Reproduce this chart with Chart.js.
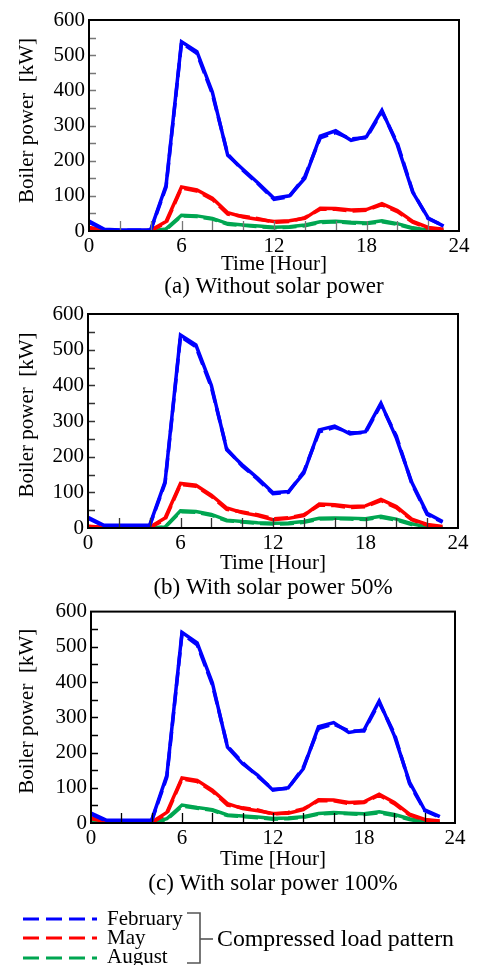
<!DOCTYPE html>
<html><head><meta charset="utf-8">
<script src="https://cdn.jsdelivr.net/npm/chart.js@4"></script>
<style>
html,body{margin:0;padding:0;background:#fff;width:477px;height:965px;overflow:hidden}
body{position:relative}
canvas{position:absolute;left:0}
#legend{position:absolute;left:0;top:895px}
</style></head><body>
<canvas id="c0" width="477" height="305" style="top:0px"></canvas>
<canvas id="c1" width="477" height="310" style="top:295px"></canvas>
<canvas id="c2" width="477" height="305" style="top:595px"></canvas>
<svg id="legend" width="477" height="70" xmlns="http://www.w3.org/2000/svg"></svg>
<script>
// ---------- data ----------
const hours = [0,1,2,3,4,5,6,7,8,9,10,11,12,13,14,15,16,17,18,19,20,21,22,23];
const xTickLabels = ['0','6','12','18','24'];
const yTickLabels = ['0','100','200','300','400','500','600'];
const seriesNames = ['February','May','August'];
const captions = ['(a) Without solar power','(b) With solar power 50%','(c) With solar power 100%'];
const xTitle = 'Time [Hour]';
const yTitle = 'Boiler power  [kW]';
const legendTitle = 'Compressed load pattern';

// (a) without solar power
const febA  = [28,5,3,3,3,130,538,510,395,215,175,135,93,100,150,270,285,258,268,343,245,110,37,14];
const febAc = [25,4,2,2,2,125,535,505,390,218,172,133,90,98,155,265,280,262,265,340,250,112,35,15];
const mayA  = [10,3,0,0,2,27,125,117,93,52,40,33,27,29,36,65,64,60,61,78,58,27,10,5];
const mayAc = [8,2,0,0,1,23,122,114,90,48,42,35,25,27,38,62,62,57,59,75,55,25,8,4];
const augA  = [3,1,0,0,0,6,45,43,36,21,17,14,11,12,17,26,28,25,23,29,21,9,2,0];
const augAc = [2,1,0,0,0,4,43,41,34,19,16,12,9,11,15,24,26,23,21,26,19,7,1,0];
// (b) with solar power 50%
const febB  = [30,8,8,8,8,130,541,513,400,219,177,140,99,102,154,275,286,264,270,350,252,128,41,18];
const febBc = [27,6,6,6,6,126,537,508,395,222,174,137,96,100,158,270,282,268,267,346,258,125,38,16];
const mayB  = [5,2,2,2,2,28,125,120,92,56,43,35,23,27,35,67,65,60,62,80,60,25,10,4];
const mayBc = [4,1,1,1,1,24,122,117,89,52,45,37,26,29,37,64,63,57,60,77,57,23,8,3];
const augB  = [3,0,0,0,0,3,48,46,38,22,18,15,13,14,18,27,28,27,26,33,25,12,3,0];
const augBc = [2,0,0,0,0,2,46,44,36,20,17,13,11,12,16,25,26,25,24,30,22,10,2,0];
// (c) with solar power 100%
const febC  = [28,8,8,8,8,135,541,511,398,215,168,135,93,100,154,273,285,257,264,346,248,116,37,18];
const febCc = [25,6,6,6,6,130,537,506,393,218,171,132,96,98,158,268,281,261,261,342,254,112,35,16];
const mayC  = [15,5,2,2,2,30,128,121,93,55,41,35,27,28,38,66,65,58,60,82,58,25,10,6];
const mayCc = [12,4,1,1,1,26,125,118,90,51,43,37,25,30,40,63,63,55,58,79,55,23,8,5];
const augC  = [10,3,0,0,0,12,51,44,38,23,20,17,13,14,18,27,30,28,26,32,24,12,3,1];
const augCc = [8,2,0,0,0,10,48,42,36,21,18,15,11,12,16,25,28,26,24,29,21,10,2,0];

const panelData = [
  [[febA,febAc],[mayA,mayAc],[augA,augAc]],
  [[febB,febBc],[mayB,mayBc],[augB,augBc]],
  [[febC,febCc],[mayC,mayCc],[augC,augCc]]
];

// ---------- layout / style ----------
const colors = ['#0000ff','#ff0000','#00a651'];
const FONT = '"Liberation Serif","Times New Roman",serif';
const panels = [
  {top:0,   h:305, l:89, t:20,  r:459, b:231, xtB:38.5, capB:62, ytOff:-5, tickCol:'#777'},
  {top:295, h:310, l:88, t:314, r:458, b:528, xtB:40.5, capB:66, ytOff:-6, tickCol:'#333'},
  {top:595, h:305, l:91, t:610, r:455, b:823, xtB:41.5, capB:67, ytOff:-6, tickCol:'#000'}
];

Chart.defaults.font.family = FONT;
Chart.defaults.color = '#000';

function makePlugin(p, idx) {
  return {
    id: 'frame' + idx,
    afterDatasetsDraw(chart) {
      const ctx = chart.ctx, a = chart.chartArea;
      const xs = chart.scales.x, ys = chart.scales.y;
      ctx.save();
      ctx.strokeStyle = p.tickCol;
      ctx.lineWidth = 1.3;
      ctx.beginPath();
      xs.ticks.forEach(t => {
        if (t.value <= 0 || t.value >= 24) return;
        const x = Math.round(xs.getPixelForValue(t.value)) + 0.5;
        ctx.moveTo(x, a.bottom); ctx.lineTo(x, a.bottom - 10);
      });
      ys.ticks.forEach(t => {
        if (t.value <= 0 || t.value >= 600) return;
        const y = Math.round(ys.getPixelForValue(t.value)) + 0.5;
        ctx.moveTo(a.left, y); ctx.lineTo(a.left + 7, y);
      });
      ctx.stroke();
      ctx.strokeStyle = '#000';
      ctx.lineWidth = 2;
      ctx.strokeRect(a.left, a.top, a.right - a.left, a.bottom - a.top);
      ctx.restore();
    },
    afterDraw(chart) {
      const ctx = chart.ctx, a = chart.chartArea;
      const cx = (a.left + a.right) / 2;
      ctx.save();
      ctx.fillStyle = '#000';
      ctx.textAlign = 'center';
      ctx.textBaseline = 'alphabetic';
      ctx.font = '21px ' + FONT;
      ctx.fillText(xTitle, cx, a.bottom + p.xtB);
      ctx.font = '23px ' + FONT;
      ctx.fillText(captions[idx], cx, a.bottom + p.capB);
      ctx.font = '21px ' + FONT;
      ctx.translate(33, (a.top + a.bottom) / 2 + p.ytOff);
      ctx.rotate(-Math.PI / 2);
      ctx.fillText(yTitle, 0, 0);
      ctx.restore();
    }
  };
}

panels.forEach((p, idx) => {
  const datasets = [];
  panelData[idx].forEach((pair, si) => {
    pair.forEach((vals, k) => {
      datasets.push({
        label: seriesNames[si] + (k ? ' (compressed)' : ''),
        data: hours.map((h, i) => ({x: h, y: vals[i]})),
        borderColor: colors[si],
        borderWidth: 3.5,
        borderDash: k ? [14, 6] : [],
        pointRadius: 0,
        tension: 0,
        fill: false,
        order: si * 2 + k
      });
    });
  });
  new Chart(document.getElementById('c' + idx), {
    type: 'line',
    data: {datasets},
    options: {
      responsive: false,
      animation: false,
      events: [],
      layout: {padding: {left: 0, top: p.t - p.top, right: 477 - p.r, bottom: 0}},
      plugins: {legend: {display: false}, tooltip: {enabled: false}, title: {display: false}},
      scales: {
        x: {
          type: 'linear', min: 0, max: 24,
          grid: {display: false, drawTicks: false},
          border: {display: false},
          ticks: {
            stepSize: 2, autoSkip: false, maxRotation: 0, padding: 3,
            font: {size: 21}, color: '#000',
            callback: v => xTickLabels.includes(String(v)) ? String(v) : ''
          },
          afterFit: s => { s.height = p.h - (p.b - p.top); }
        },
        y: {
          min: 0, max: 600,
          grid: {display: false, drawTicks: false},
          border: {display: false},
          ticks: {
            stepSize: 50, autoSkip: false, padding: 4,
            font: {size: 21}, color: '#000',
            callback: v => yTickLabels.includes(String(v)) ? String(v) : ''
          },
          afterFit: s => { s.width = p.l; }
        }
      }
    },
    plugins: [makePlugin(p, idx)]
  });
});

// ---------- legend (SVG, real text) ----------
const svg = document.getElementById('legend');
const NS = 'http://www.w3.org/2000/svg';
function el(tag, attrs, text) {
  const e = document.createElementNS(NS, tag);
  for (const k in attrs) e.setAttribute(k, attrs[k]);
  if (text) e.textContent = text;
  svg.appendChild(e);
  return e;
}
const legY = [24, 43, 63];
const legBase = [30, 49, 68];
seriesNames.forEach((n, i) => {
  el('line', {x1: 23, x2: 97, y1: legY[i], y2: legY[i], stroke: colors[i], 'stroke-width': 3, 'stroke-dasharray': '16 7'});
  el('text', {x: 107, y: legBase[i], 'font-family': 'Liberation Serif', 'font-size': 21, fill: '#000'}, n);
});
el('polyline', {points: '187,18 200,18 200,68 187,68', fill: 'none', stroke: '#555', 'stroke-width': 1.6});
el('line', {x1: 200, x2: 213, y1: 44, y2: 44, stroke: '#555', 'stroke-width': 1.6});
el('text', {x: 217, y: 51, 'font-family': 'Liberation Serif', 'font-size': 23, fill: '#000', textLength: 237, lengthAdjust: 'spacingAndGlyphs'}, legendTitle);
</script>
</body></html>
